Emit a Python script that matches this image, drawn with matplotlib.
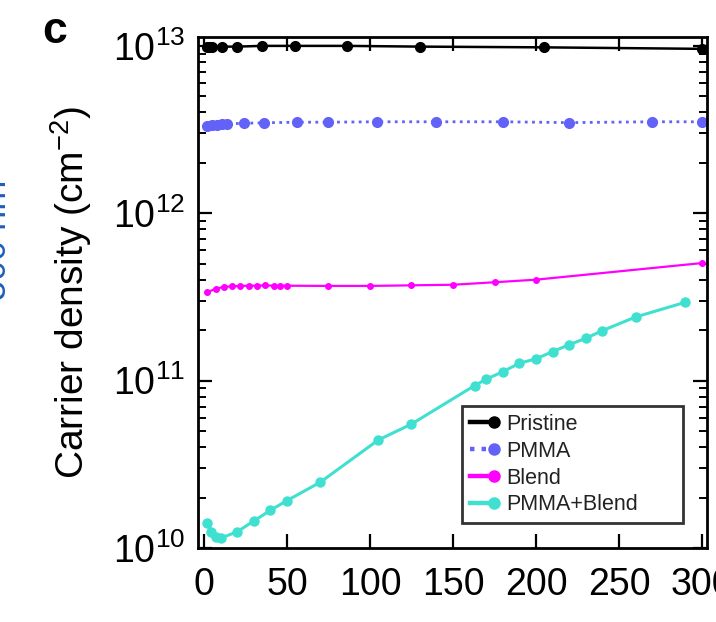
import numpy as np
import matplotlib
matplotlib.use("Agg")
import matplotlib.pyplot as plt
from matplotlib.legend_handler import HandlerLine2D
from matplotlib.ticker import LogLocator, NullFormatter, MultipleLocator

plt.rcParams['font.family'] = ['Liberation Sans', 'DejaVu Sans']
plt.rcParams['mathtext.fontset'] = 'custom'
plt.rcParams['mathtext.rm'] = 'Liberation Sans'
plt.rcParams['mathtext.it'] = 'Liberation Sans:italic'

# carrier density vs time for the four device treatments
pristine_x = [2, 3, 5, 11, 20, 35, 55, 86, 130, 205, 300]
pristine_y = [9.8e12, 9.8e12, 9.9e12, 9.9e12, 9.9e12, 1.0e13, 1.0e13, 1.0e13, 9.9e12, 9.8e12, 9.6e12]

pmma_x = [2, 5, 8, 11, 14, 24, 36, 56, 75, 104, 140, 180, 220, 270, 300]
pmma_y = [3.30e12, 3.35e12, 3.38e12, 3.40e12, 3.42e12, 3.45e12, 3.47e12, 3.50e12,
          3.50e12, 3.52e12, 3.52e12, 3.52e12, 3.48e12, 3.52e12, 3.52e12]

blend_x = [2, 7, 12, 17, 22, 27, 32, 37, 42, 46, 50, 75, 100, 125, 150, 175, 200, 300]
blend_y = [3.37e11, 3.54e11, 3.63e11, 3.66e11, 3.68e11, 3.69e11, 3.69e11, 3.71e11, 3.69e11,
           3.69e11, 3.69e11, 3.68e11, 3.68e11, 3.71e11, 3.74e11, 3.87e11, 4.01e11, 5.04e11]

combo_x = [2, 4.5, 7.5, 10.5, 20, 30, 40, 50, 70, 105, 125, 163, 170, 180, 190, 200,
           210, 220, 230, 240, 260, 290]
combo_y = [1.41e10, 1.25e10, 1.16e10, 1.15e10, 1.25e10, 1.45e10, 1.68e10, 1.92e10, 2.47e10,
           4.42e10, 5.50e10, 9.34e10, 1.02e11, 1.13e11, 1.27e11, 1.35e11, 1.49e11, 1.64e11,
           1.79e11, 1.99e11, 2.40e11, 2.94e11]


class EndDot(HandlerLine2D):
    # legend handle: thick short line with the dot at its right end
    def create_artists(self, *args, **kwargs):
        arts = super().create_artists(*args, **kwargs)
        for a in arts:
            a.set_markevery([2])
            a.set_linewidth(3.2)
            a.set_markersize(8)
        return arts


fig = plt.figure(figsize=(7.16, 6.22), dpi=100)
ax = fig.add_axes([198 / 716, 1 - 548 / 622, 509 / 716, 511 / 622])

ax.plot(pristine_x, pristine_y, '-o', color='black', lw=1.8, ms=7, label='Pristine')
ax.plot(pmma_x, pmma_y, 'o', ls=(0, (1, 1.6)), color='#6262f8', lw=2.0, ms=7, label='PMMA')
ax.plot(blend_x, blend_y, '-o', color='#ff00ff', lw=1.6, ms=4, label='Blend')
ax.plot(combo_x, combo_y, '-o', color='#40e0d0', lw=2.2, ms=6.5, label='PMMA+Blend')

ax.set_yscale('log')
ax.set_ylim(1e10, 1.13e13)
ax.set_xlim(-3.6, 303)
ax.xaxis.set_major_locator(MultipleLocator(50))
ax.yaxis.set_major_locator(LogLocator(base=10, numticks=10))
ax.yaxis.set_minor_locator(LogLocator(base=10, subs=np.arange(2, 10), numticks=10))
ax.yaxis.set_minor_formatter(NullFormatter())

for s in ax.spines.values():
    s.set_linewidth(2)
ax.tick_params(which='both', direction='in', top=True, right=True, labelsize=27, color='black')
ax.tick_params(which='major', length=10, width=1.6)
ax.tick_params(which='minor', length=5.5, width=1.4)
ax.tick_params(axis='x', pad=14)
ax.tick_params(axis='y', pad=9)

ax.set_ylabel('Carrier density (cm$^{-2}$)', fontsize=28, labelpad=14)

leg = ax.legend(loc='lower left', bbox_to_anchor=(0.519, 0.049, 0.434, 0.23), mode='expand',
                borderaxespad=0, fontsize=15.5, frameon=True, fancybox=False,
                edgecolor='black', numpoints=1, handlelength=1.15, handletextpad=0.55,
                labelspacing=0.27, borderpad=0.35,
                handler_map={matplotlib.lines.Line2D: EndDot()})
leg.get_frame().set_linewidth(2)
for t in leg.get_texts():
    t.set_color('#222222')

fig.text(42 / 716, 1 - 43 / 622, 'c', fontsize=32, fontweight='bold')
# piece of the neighbouring panel's label
fig.text(14 / 716, 1 - 240 / 622, '500 nm', rotation=90, ha='right', va='center',
         fontsize=26, color='#1f5fb8')

fig.savefig('out.png', dpi=100)
